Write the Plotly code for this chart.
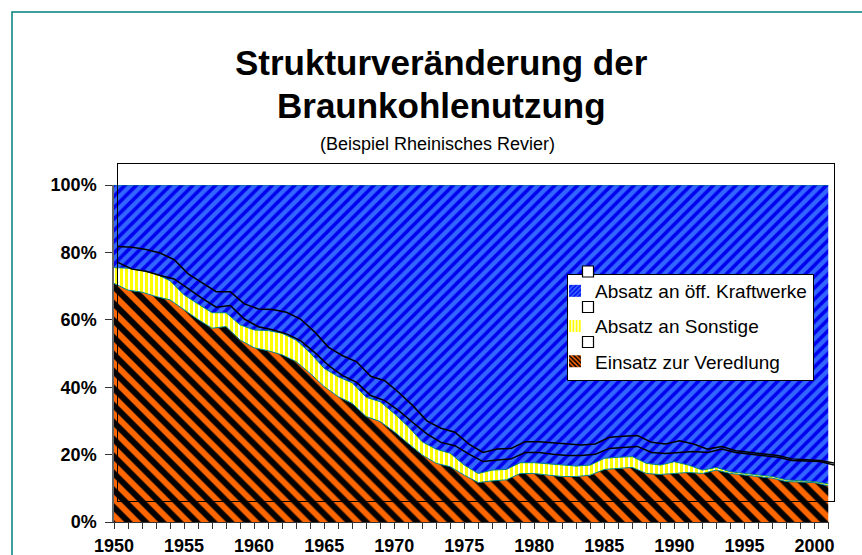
import plotly.graph_objects as go

# ---- Data (Anteile in %) ----
years = [1950, 1951, 1952, 1953, 1954, 1955, 1956, 1957, 1958, 1959,
         1960, 1961, 1962, 1963, 1964, 1965, 1966, 1967, 1968, 1969,
         1970, 1971, 1972, 1973, 1974, 1975, 1976, 1977, 1978, 1979,
         1980, 1981, 1982, 1983, 1984, 1985, 1986, 1987, 1988, 1989,
         1990, 1991, 1992, 1993, 1994, 1995, 1996, 1997, 1998, 1999,
         2000, 2001]

veredlung = [70.8, 68.8, 68.2, 66.9, 65.9, 62.9, 60.1, 57.5, 58.0, 54.0,
             51.7, 50.8, 49.6, 47.6, 44.1, 40.2, 37.2, 35.2, 31.3, 29.8,
             26.8, 23.3, 19.9, 17.4, 16.4, 13.9, 11.7, 12.2, 12.5, 14.4,
             14.4, 13.9, 13.5, 13.5, 13.9, 15.6, 15.9, 16.2, 14.4, 14.1,
             14.4, 14.7, 14.4, 15.4, 14.4, 13.9, 13.5, 13.0, 12.0, 11.9,
             11.7, 10.7]

sonstige = [4.7, 6.5, 6.4, 6.7, 5.7, 4.5, 4.6, 4.6, 4.1, 4.5,
            5.3, 6.0, 6.4, 6.4, 6.1, 5.4, 5.9, 6.1, 5.7, 5.9,
            5.4, 5.0, 3.9, 4.2, 4.0, 3.0, 2.7, 3.2, 3.1, 3.2,
            3.2, 3.3, 3.4, 3.1, 3.0, 3.3, 3.3, 3.2, 3.0, 2.8,
            3.5, 2.2, 1.0, 0.8, 0.5, 0.5, 0.4, 0.5, 0.5, 0.4,
            0.3, 0.6]

kraftwerke = [24.5, 24.7, 25.4, 26.4, 28.4, 32.6, 35.3, 37.9, 37.9, 41.5,
              43.0, 43.2, 44.0, 46.0, 49.8, 54.4, 56.9, 58.7, 63.0, 64.3,
              67.8, 71.7, 76.2, 78.4, 79.6, 83.1, 85.6, 84.6, 84.4, 82.4,
              82.4, 82.8, 83.1, 83.4, 83.1, 81.1, 80.8, 80.6, 82.6, 83.1,
              82.1, 83.1, 84.6, 83.8, 85.1, 85.6, 86.1, 86.5, 87.5, 87.7,
              88.0, 88.7]

y_ticks = [0, 20, 40, 60, 80, 100]
y_labels = ["0%", "20%", "40%", "60%", "80%", "100%"]
x_ticks = [1950, 1955, 1960, 1965, 1970, 1975, 1980, 1985, 1990, 1995, 2000]

# ---- Layout geometry (pixels) ----
W, H = 862, 555
L, R, T, B = 114, 834, 164, 522   # paper area in pixels


def px_x(px):
    return (px - L) / (R - L)


def px_y(py):
    return (B - py) / (B - T)


FONT = "Liberation Sans, Arial, sans-serif"
TEAL = "#008080"

pat_veredlung = dict(shape="\\", bgcolor="#FF6600", fgcolor="#000000",
                     size=12, solidity=0.5, fillmode="replace")
pat_sonstige = dict(shape="|", bgcolor="#FFFFFF", fgcolor="#FFFF00",
                    size=5, solidity=0.6, fillmode="replace")
pat_kraftwerke = dict(shape="/", bgcolor="#3366FF", fgcolor="#0000EE",
                      size=8, solidity=0.45, fillmode="replace")

fig = go.Figure()

# ---- Stacked areas ----
for name, vals, pat in [("Einsatz zur Veredlung", veredlung, pat_veredlung),
                        ("Absatz an Sonstige", sonstige, pat_sonstige),
                        ("Absatz an öff. Kraftwerke", kraftwerke, pat_kraftwerke)]:
    fig.add_trace(go.Scatter(
        x=years, y=vals, name=name, stackgroup="main", showlegend=False,
        line=dict(color=TEAL, width=1), fillpattern=pat,
        hovertemplate="%{x}: %{y:.1f}%<extra>" + name + "</extra>",
    ))

# ---- Shifted outline (second frame) ----
for vals in [veredlung, sonstige]:
    fig.add_trace(go.Scatter(
        x=years, y=vals, xaxis="x2", yaxis="y2",
        stackgroup="shift", fill="none", showlegend=False,
        line=dict(color="black", width=1.5), hoverinfo="skip",
    ))

# ---- Legend keys (square swatches) ----
for rank, (name, pat) in enumerate([("Absatz an öff. Kraftwerke", pat_kraftwerke),
                                    ("Absatz an Sonstige", pat_sonstige),
                                    ("Einsatz zur Veredlung", pat_veredlung)]):
    fig.add_trace(go.Bar(
        x=[None], y=[None], name=name, legendrank=rank + 1, legendgroup=name,
        marker=dict(color=pat["bgcolor"], line=dict(width=0),
                    pattern=dict(shape=pat["shape"], bgcolor=pat["bgcolor"],
                                 fgcolor=pat["fgcolor"], size=4,
                                 solidity=pat["solidity"], fillmode="replace")),
    ))

# ---- Decorations: outer border, legend box and squares ----
shapes = [dict(type="rect", xref="paper", yref="paper",
               x0=px_x(12), x1=px_x(900), y0=px_y(600), y1=px_y(12),
               line=dict(color=TEAL, width=1.5)),
          dict(type="rect", xref="paper", yref="paper",
               x0=px_x(567.5), x1=px_x(813.5), y0=px_y(380.5), y1=px_y(274.5),
               line=dict(color="black", width=1), fillcolor="white", layer="above")]
for py in [271.5, 307, 342]:
    shapes.append(dict(type="rect", xref="paper", yref="paper",
                       x0=px_x(582.5), x1=px_x(593.5),
                       y0=px_y(py + 5.5), y1=px_y(py - 5.5),
                       line=dict(color="black", width=1.2),
                       fillcolor="white", layer="above"))

fig.update_layout(
    width=W, height=H,
    margin=dict(l=L, r=W - R, t=T, b=H - B, autoexpand=False),
    paper_bgcolor="white",
    plot_bgcolor="rgba(0,0,0,0)",
    font=dict(family=FONT, color="black"),
    showlegend=True,
    legend=dict(
        x=px_x(555), y=px_y(272), xanchor="left", yanchor="top",
        bgcolor="rgba(0,0,0,0)", borderwidth=0,
        font=dict(family=FONT, size=19, color="black"),
        traceorder="grouped", tracegroupgap=7.5,
    ),
    xaxis=dict(
        domain=[0, px_x(828.5)], range=[1950, 2001], automargin=False,
        tickvals=x_ticks, ticks="outside", ticklen=6, tickcolor="#333",
        minor=dict(dtick=1, tick0=1950, ticks="outside", ticklen=6, tickcolor="#333"),
        showline=True, linecolor="#333", linewidth=1,
        showgrid=False, zeroline=False, ticklabelstandoff=1,
        tickfont=dict(family=FONT, size=18, weight="bold"),
    ),
    yaxis=dict(
        domain=[0, px_y(185)], range=[0, 100], automargin=False,
        tickvals=y_ticks, ticktext=y_labels, ticks="outside", ticklen=7,
        tickcolor="#333", showline=True, linecolor="#666", linewidth=1.5,
        showgrid=False, zeroline=False, ticklabelstandoff=5,
        tickfont=dict(family=FONT, size=18, weight="bold"),
    ),
    xaxis2=dict(
        domain=[px_x(118), 1], range=[1950, 2001], anchor="y2",
        showline=True, mirror=True, linecolor="black", linewidth=1,
        showticklabels=False, ticks="", showgrid=False, zeroline=False,
    ),
    yaxis2=dict(
        domain=[px_y(501), 1], range=[0, 100], anchor="x2",
        showline=True, mirror=True, linecolor="black", linewidth=1,
        showticklabels=False, ticks="", showgrid=False, zeroline=False,
    ),
    shapes=shapes,
    annotations=[
        dict(text="<b>Strukturveränderung der</b>",
             xref="paper", yref="paper", x=px_x(441), y=px_y(63),
             xanchor="center", yanchor="middle", showarrow=False,
             font=dict(family=FONT, size=35, color="black")),
        dict(text="<b>Braunkohlenutzung</b>",
             xref="paper", yref="paper", x=px_x(441), y=px_y(105),
             xanchor="center", yanchor="middle", showarrow=False,
             font=dict(family=FONT, size=35, color="black")),
        dict(text="(Beispiel Rheinisches Revier)",
             xref="paper", yref="paper", x=px_x(437), y=px_y(144),
             xanchor="center", yanchor="middle", showarrow=False,
             font=dict(family=FONT, size=18, color="black")),
    ],
)

fig.write_html("out.html", config={"displayModeBar": False},
               post_script="document.body.style.margin='0';")
